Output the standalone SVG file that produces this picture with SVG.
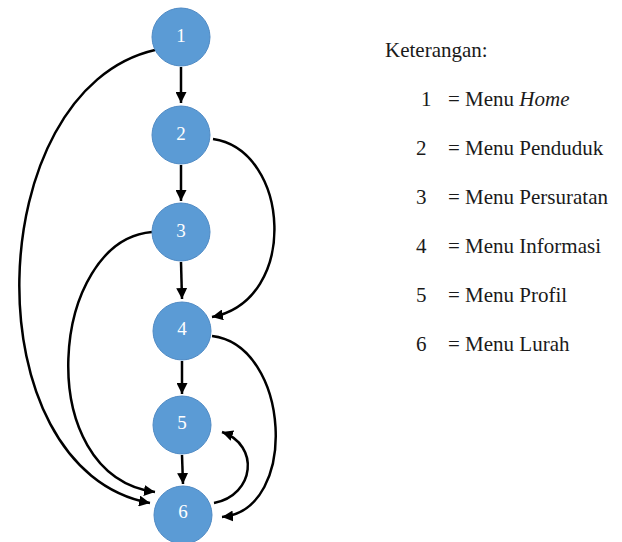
<svg xmlns="http://www.w3.org/2000/svg" width="622" height="542" viewBox="0 0 622 542">
<style>
.node circle{fill:#5B9BD5;stroke:#4F8AC4;stroke-width:1}
.node text{fill:#ffffff;font-family:"Liberation Serif",serif;font-size:19px;text-anchor:middle}
.edge{fill:none;stroke:#000;stroke-width:2.5}
.leg{font-family:"Liberation Serif",serif;font-size:21px;fill:#1a1a1a}
</style>
<defs>
<marker id="ah" viewBox="0 0 10 10" refX="10" refY="5" markerWidth="11" markerHeight="11" markerUnits="userSpaceOnUse" orient="auto">
<path d="M0,0 L10,5 L0,10 z" fill="#000"/>
</marker>
</defs>
<g id="connectors">
<line class="edge" x1="181" y1="67" x2="181" y2="103" marker-end="url(#ah)"/>
<line class="edge" x1="181" y1="165" x2="181" y2="201" marker-end="url(#ah)"/>
<line class="edge" x1="181" y1="262" x2="182" y2="299" marker-end="url(#ah)"/>
<line class="edge" x1="182" y1="361" x2="182" y2="394" marker-end="url(#ah)"/>
<line class="edge" x1="182" y1="455" x2="183" y2="484" marker-end="url(#ah)"/>
<path class="edge" d="M155,50 C-20,90 -30,470 150,503" marker-end="url(#ah)"/>
<path class="edge" d="M152,232 C50,240 30,475 155,492" marker-end="url(#ah)"/>
<path class="edge" d="M213,139 C290,150 300,300 212,317" marker-end="url(#ah)"/>
<path class="edge" d="M212,336 C290,345 300,510 222,517" marker-end="url(#ah)"/>
<path class="edge" d="M214,503 C255,495 260,445 222,432" marker-end="url(#ah)"/>
</g>
<g id="n1" class="node"><circle cx="181" cy="37" r="29"/><text x="181" y="42">1</text></g>
<g id="n2" class="node"><circle cx="181" cy="135" r="29"/><text x="181" y="140">2</text></g>
<g id="n3" class="node"><circle cx="181" cy="232" r="29"/><text x="181" y="237">3</text></g>
<g id="n4" class="node"><circle cx="182" cy="331" r="29"/><text x="182" y="335">4</text></g>
<g id="n5" class="node"><circle cx="182" cy="425" r="29"/><text x="182" y="429">5</text></g>
<g id="n6" class="node"><circle cx="183" cy="515" r="29"/><text x="183" y="518">6</text></g>
<g id="legend" class="leg">
<text x="385" y="57">Keterangan:</text>
<text x="421" y="106">1</text><text x="448" y="106">= Menu <tspan font-style="italic">Home</tspan></text>
<text x="416" y="155">2</text><text x="448" y="155">= Menu Penduduk</text>
<text x="416" y="204">3</text><text x="448" y="204">= Menu Persuratan</text>
<text x="416" y="253">4</text><text x="448" y="253">= Menu Informasi</text>
<text x="416" y="302">5</text><text x="448" y="302">= Menu Profil</text>
<text x="416" y="351">6</text><text x="448" y="351">= Menu Lurah</text>
</g>
</svg>
